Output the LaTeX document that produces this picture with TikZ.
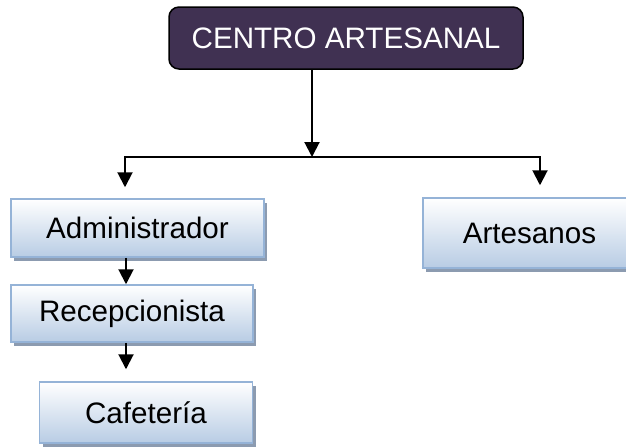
\documentclass[tikz,border=0pt]{standalone}
\usepackage{fontspec}
\setmainfont{Liberation Sans}
\usetikzlibrary{arrows.meta,shadows}
\definecolor{headfill}{HTML}{403152}
\definecolor{boxline}{HTML}{95B3D7}
\definecolor{boxblue}{HTML}{B8CCE4}
\definecolor{boxshadow}{HTML}{8C9BB0}
\tikzset{
	arr/.style={-{Triangle[width=7.5pt,length=7.5pt]},line width=1pt},
	headbox/.style={draw=black,line width=0.75pt,fill=headfill,text=white,rounded corners=5pt,inner sep=0pt},
	staffbox/.style={draw=boxline,line width=0.75pt,top color=white,bottom color=boxblue,inner sep=0pt,
		drop shadow={shadow xshift=1.5pt,shadow yshift=-2pt,opacity=1,fill=boxshadow}}
}
\begin{document}
\begin{tikzpicture}[x=0.5pt,y=-0.5pt,font=\fontsize{14.8}{17}\selectfont]
	\clip (0,0) rectangle (626,447);
	% head
	\node[headbox,minimum width=177pt,minimum height=31pt] (top) at (346,38) {CENTRO ARTESANAL};
	%
	\node[staffbox,minimum width=126.5pt,minimum height=29pt] (adm) at (137.5,228) {Administrador};
	\node[staffbox,minimum width=121pt,minimum height=28.5pt] (rec) at (132,313.5) {Recepcionista};
	\node[staffbox,minimum width=106.5pt,minimum height=30.5pt] (caf) at (146,412.5) {Cafetería};
	\node[staffbox,minimum width=106.5pt,minimum height=35pt] (art) at (529.5,233) {Artesanos};
	%
	\coordinate (hub) at (312,157);
	\coordinate (col) at (126,0);
	\draw[arr] (hub |- top.south) -- (hub);
	\draw[arr,shorten >=5.5pt] (hub) -| ([xshift=-6.25pt]adm.north);
	\draw[arr,shorten >=6pt] (hub) -| ([xshift=5.25pt]art.north);
	\draw[arr] (col |- adm.south) -- (col |- rec.north);
	\draw[arr,shorten >=6pt] (col |- rec.south) -- (col |- caf.north);
\end{tikzpicture}
\end{document}
